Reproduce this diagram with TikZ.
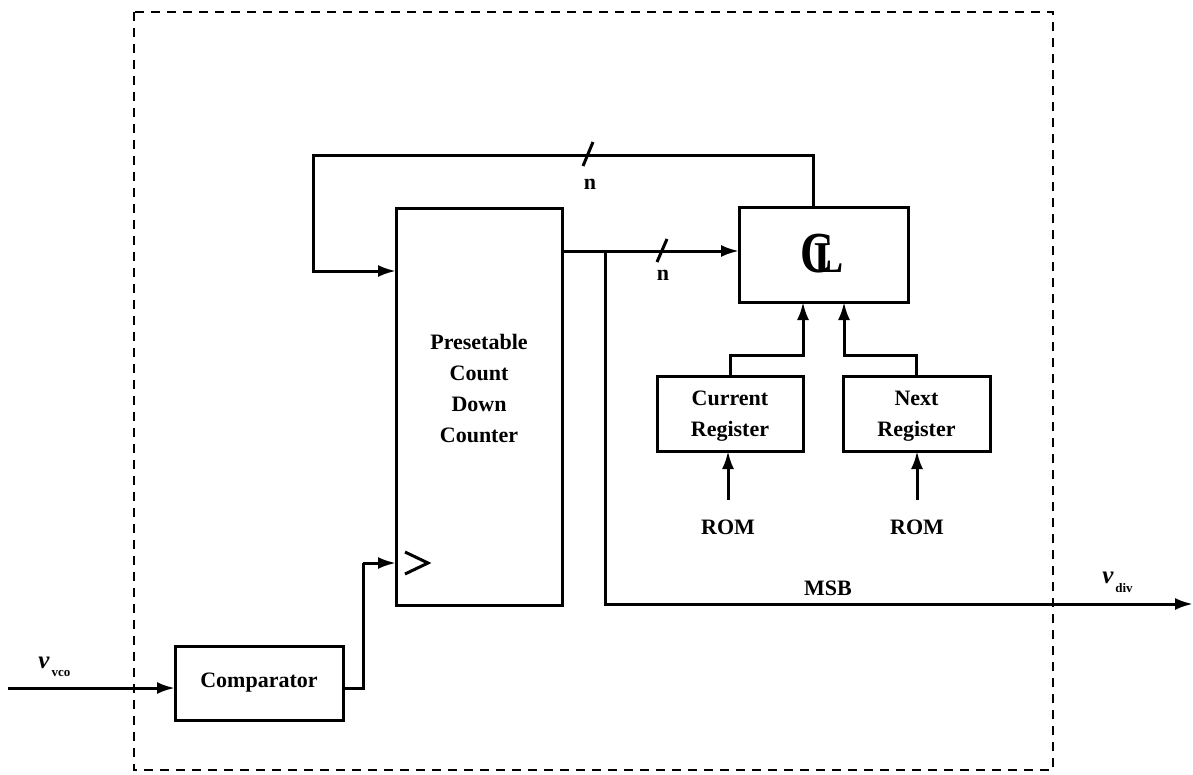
\documentclass[tikz,border=0pt]{standalone}
\usepackage{fontspec}
\setmainfont{Liberation Serif}
\usetikzlibrary{arrows.meta}
\begin{document}
\begin{tikzpicture}[x=1pt,y=-1pt,
  box/.style={draw, line width=3pt, inner sep=0pt, outer sep=0pt},
  wire/.style={line width=3pt},
  arr/.style={wire, -{Latex[length=18pt,width=12pt]}},
  lbl/.style={font=\fontsize{22}{31}\selectfont\bfseries, inner sep=0pt, align=center},
  sub/.style={font=\fontsize{13}{13}\selectfont\bfseries, inner sep=0pt},
  vlab/.style={font=\fontsize{25}{25}\selectfont\bfseries\itshape, inner sep=0pt},
]
\useasboundingbox (0,0) rectangle (1193,774);
% dashed frame
\draw[line width=2.6pt, dash pattern=on 9pt off 7pt] (134,12) rectangle (1053,770);

% blocks
\node[box, minimum width=166, minimum height=397] (cnt) at (479,406.5) {};
\node[lbl] (cnttxt) at (479,388) {Presetable\\Count\\Down\\Counter};
\node[box, minimum width=169, minimum height=95] (cl) at (823.5,254.5) {};
\node[inner sep=0pt, anchor=base west] (clsym) at (800,272)
  {\fontsize{58}{58}\selectfont\bfseries\scalebox{0.8}[1]{C}\kern-19pt\fontsize{44}{44}\selectfont L};
\node[box, minimum width=146, minimum height=75] (cur) at (730,413.5) {};
\node[lbl] (curtxt) at (730,416) {Current\\Register};
\node[box, minimum width=147, minimum height=75] (nxt) at (916.5,413.5) {};
\node[lbl] (nxttxt) at (916.5,416) {Next\\Register};
\node[box, minimum width=168, minimum height=74] (cmp) at (259,683) {};
\node[lbl] (cmptxt) at (259,683) {Comparator};

% labels
\node[lbl, minimum height=54] (rom1) at (728,527) {ROM};
\node[lbl, minimum height=54] (rom2) at (917,527) {ROM};
\node[lbl] (msb) at (828,588) {MSB};
\node[lbl] (nA) at (590,184) {n};
\node[lbl] (nB) at (663,275) {n};

% v labels
\node[vlab] (vv) at (44,663) {v};
\node[sub] (vvs) at (61,673) {vco};
\node[vlab] (vd) at (1108,578) {v};
\node[sub] (vds) at (1124,588) {div};

% coordinates
\coordinate (vin) at (8,688);
\coordinate (k1) at (363,563);
\coordinate (fbA) at (813,155);
\coordinate (fbB) at (313,155);
\coordinate (fbC) at (313,271);
\coordinate (br) at (605,251);
\coordinate (vout) at (1193,604);
\coordinate (j1) at (803,355);
\coordinate (j2) at (844,355);

% connectors
\draw[arr] (vin) -- (cmp.west |- vin);
\draw[wire] (cmp.east |- vin) -| (k1);
\draw[arr] (k1) -- (cnt.west |- k1);
\draw[arr] (cl.north -| fbA) -- (fbA) -- (fbB) -- (fbC) -- (cnt.west |- fbC);
\draw[arr] (cnt.east |- br) -- (cl.west |- br);
\draw[arr] (br) |- (vout);
\draw[arr] (cur.north) |- (j1) -- (cl.south -| j1);
\draw[arr] (nxt.north) |- (j2) -- (cl.south -| j2);
\draw[arr] (rom1.north) -- (cur.south -| rom1.north);
\draw[arr] (rom2.north) -- (nxt.south -| rom2.north);

% bus slashes
\draw[wire] (583,166) -- (593,142);
\draw[wire] (657,262) -- (667,239);

% clock symbol
\draw[wire] (405,552) -- (428,563) -- (405,574);
\end{tikzpicture}
\end{document}
